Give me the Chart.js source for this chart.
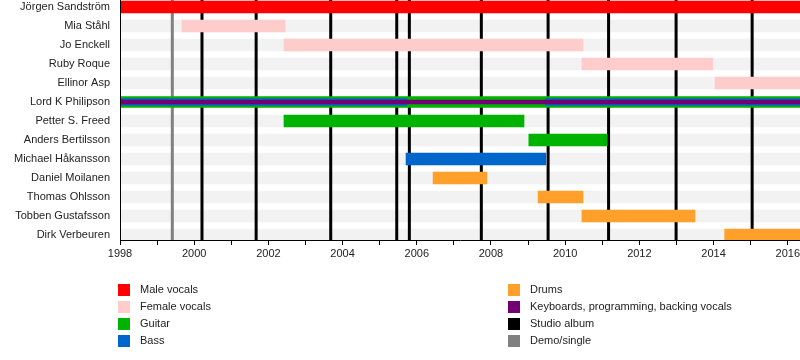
<!DOCTYPE html>
<html>
<head>
<meta charset="utf-8">
<script src="https://cdn.jsdelivr.net/npm/chart.js@4"></script>
<style>
  body { margin: 0; background: #fff; }
  #wrap { width: 800px; height: 360px; }
</style>
</head>
<body>
<div id="wrap"><canvas id="chart"></canvas></div>
<script>
/*========== DATA ==========*/
const members = ['Jörgen Sandström', 'Mia Ståhl', 'Jo Enckell', 'Ruby Roque', 'Ellinor Asp',
  'Lord K Philipson', 'Petter S. Freed', 'Anders Bertilsson', 'Michael Håkansson',
  'Daniel Moilanen', 'Thomas Ohlsson', 'Tobben Gustafsson', 'Dirk Verbeuren'];

const START = 1998;
const END = 2016.33;

// [row, from, to]
const maleVocals = [[0, 1998, END]];
const femaleVocals = [[1, 1999.67, 2002.45], [2, 2002.42, 2010.48], [3, 2010.45, 2013.98], [4, 2014.04, END]];
const guitar = [[6, 2002.42, 2008.89], [7, 2009.02, 2011.13]];
const bass = [[8, 2005.71, 2009.48]];
const drums = [[9, 2006.44, 2007.89], [10, 2009.27, 2010.48], [11, 2010.45, 2013.50], [12, 2014.30, END]];
// Lord K choi nhieu thu cung luc
const lordGuitar = [[5, 1998, END]];
const lordBass = [[5, 1998, 2005.74], [5, 2009.46, END]];
const lordKeys = [[5, 1998, END]];

const studioAlbums = [2000.21, 2001.67, 2003.68, 2005.46, 2005.80, 2007.74, 2009.54, 2011.17, 2012.99, 2015.04];
const demos = [1999.41];

const xTicks = [1998, 2000, 2002, 2004, 2006, 2008, 2010, 2012, 2014, 2016];

const legendLabels = ['Male vocals', 'Female vocals', 'Guitar', 'Bass',
  'Drums', 'Keyboards, programming, backing vocals', 'Studio album', 'Demo/single'];

/*========== STYLE ==========*/
const C = {
  male: '#ff0000',
  female: '#ffcccc',
  guitar: '#00b300',
  bass: '#0066cc',
  drums: '#ffa02a',
  keys: '#730073',
  album: '#000000',
  demo: '#808080',
  stripe: '#f2f2f2'
};
const legendColors = [C.male, C.female, C.guitar, C.bass, C.drums, C.keys, C.album, C.demo];

// y range: hang 0 cach top 7px, moi hang 19px, cao 240px
const Y_MIN = -7 / 19;
const Y_MAX = Y_MIN + 240 / 19;
const FONT = { family: '"Liberation Sans", Arial, sans-serif', size: 11 };

function bars(list, color, thick, order) {
  return {
    type: 'bar',
    indexAxis: 'y',
    grouped: false,
    data: list.map(r => ({ y: r[0], x: [r[1], r[2]] })),
    backgroundColor: color,
    borderWidth: 0,
    barThickness: thick,
    order: order
  };
}

function vline(x, color) {
  return {
    type: 'line',
    data: [{ x: x, y: Y_MIN }, { x: x, y: Y_MAX }],
    borderColor: color,
    borderWidth: 3,
    pointRadius: 0,
    order: 5
  };
}

const datasets = [];
// soc nen xam
datasets.push(bars(members.map((m, i) => [i, START, END]), C.stripe, 12, 10));
studioAlbums.forEach(x => datasets.push(vline(x, C.album)));
demos.forEach(x => datasets.push(vline(x, C.demo)));
datasets.push(bars(maleVocals, C.male, 12, 3));
datasets.push(bars(femaleVocals, C.female, 12, 3));
datasets.push(bars(guitar, C.guitar, 12, 3));
datasets.push(bars(bass, C.bass, 12, 3));
datasets.push(bars(drums, C.drums, 12, 3));
datasets.push(bars(lordGuitar, C.guitar, 11, 3));
datasets.push(bars(lordBass, C.bass, 7, 2));
datasets.push(bars(lordKeys, C.keys, 4, 1));

/*========== LEGEND (2 cot) ==========*/
const legendPlugin = {
  id: 'boxLegend',
  afterDraw(chart) {
    const ctx = chart.ctx;
    ctx.save();
    ctx.font = '11px "Liberation Sans", Arial, sans-serif';
    ctx.textBaseline = 'middle';
    legendLabels.forEach((label, i) => {
      const col = Math.floor(i / 4);
      const row = i % 4;
      const x = col === 0 ? 118 : 508;
      const y = 290 + row * 17;
      ctx.fillStyle = legendColors[i];
      ctx.fillRect(x, y - 6, 12, 12);
      ctx.fillStyle = '#222';
      ctx.fillText(label, x + 22, y);
    });
    ctx.restore();
  }
};

/*========== CHART ==========*/
new Chart(document.getElementById('chart'), {
  data: { datasets },
  options: {
    responsive: true,
    maintainAspectRatio: false,
    animation: false,
    layout: { padding: 0 },
    plugins: { legend: { display: false }, tooltip: { enabled: false } },
    scales: {
      x: {
        type: 'linear',
        offset: false,
        min: START,
        max: END,
        afterBuildTicks: s => { s.ticks = []; for (let y = 1998; y <= 2016; y++) s.ticks.push({ value: y }); },
        afterFit: s => { s.height = 120; s.paddingLeft = 0; s.paddingRight = 0; },
        ticks: {
          autoSkip: false,
          maxRotation: 0,
          padding: 2,
          color: '#222',
          font: FONT,
          callback: v => xTicks.includes(v) ? String(v) : ''
        },
        grid: { drawOnChartArea: false, drawTicks: true, tickLength: 5, color: '#000' },
        border: { color: '#000', width: 1, z: 1 }
      },
      y: {
        type: 'linear',
        offset: false,
        reverse: true,
        min: Y_MIN,
        max: Y_MAX,
        afterBuildTicks: s => { s.ticks = members.map((m, i) => ({ value: i })); },
        afterFit: s => { s.width = 120; s.paddingTop = 0; s.paddingBottom = 0; },
        ticks: {
          autoSkip: false,
          padding: 10,
          color: '#222',
          font: FONT,
          callback: v => members[v]
        },
        grid: { display: false, drawTicks: false, offset: false },
        border: { color: '#000', width: 1, z: 1 }
      }
    }
  },
  plugins: [legendPlugin]
});
</script>
</body>
</html>
